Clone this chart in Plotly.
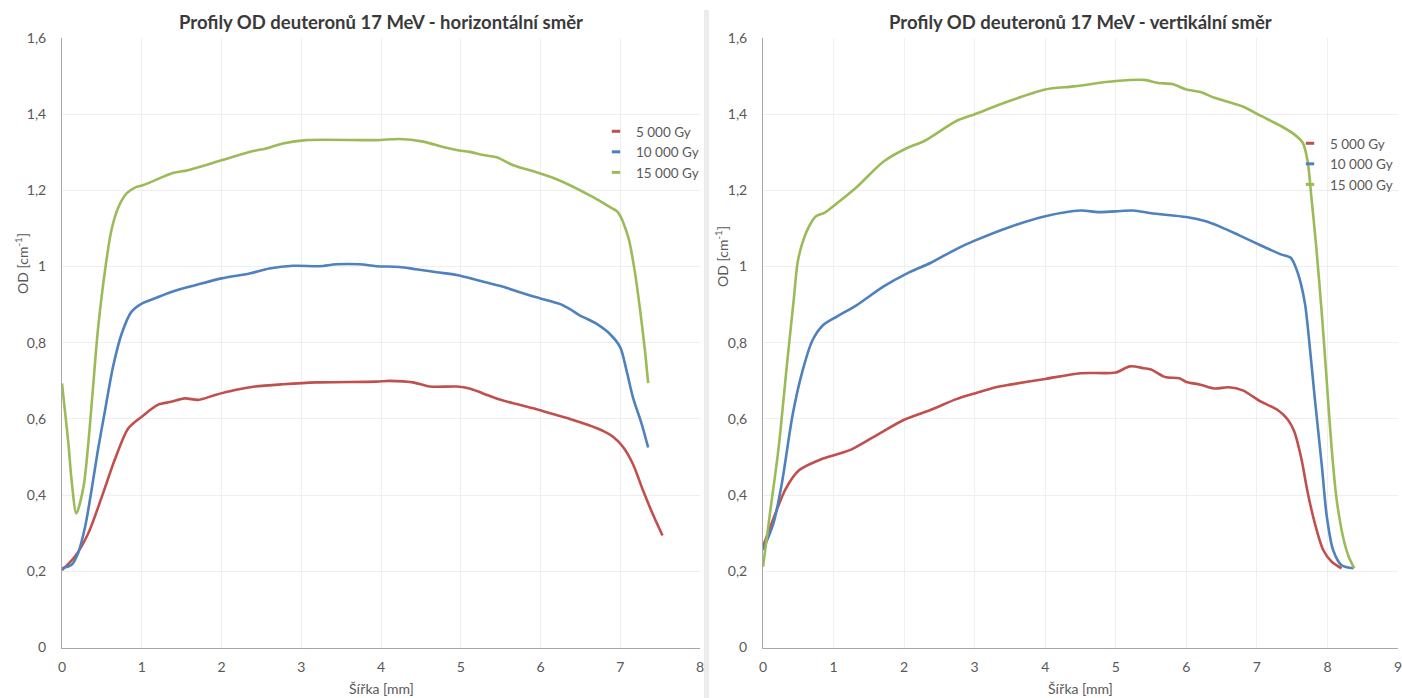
import plotly.graph_objects as go

W, H = 1402, 698

# ---------------- data ----------------
series_names = ["5 000 Gy", "10 000 Gy", "15 000 Gy"]
colors = ["#C0504D", "#4F81BD", "#9BBB59"]

# horizontal direction
h_red_x = [0, 0.16, 0.33, 0.5, 0.66, 0.83, 1.0, 1.2, 1.37, 1.54, 1.71, 1.92, 2.17, 2.42, 2.77, 3.19,
           3.94, 4.11, 4.4, 4.61, 4.95, 5.11, 5.28, 5.49, 5.7, 5.91, 6.12, 6.37, 6.6, 6.79, 6.91,
           7.04, 7.16, 7.29, 7.41, 7.53]
h_red_y = [0.203, 0.238, 0.30, 0.396, 0.492, 0.575, 0.606, 0.637, 0.645, 0.654, 0.650, 0.663, 0.676,
           0.685, 0.691, 0.696, 0.698, 0.700, 0.696, 0.685, 0.685, 0.680, 0.667, 0.651, 0.639, 0.628,
           0.615, 0.600, 0.584, 0.568, 0.553, 0.525, 0.481, 0.41, 0.349, 0.294]

h_blue_x = [0, 0.12, 0.2, 0.29, 0.37, 0.45, 0.54, 0.64, 0.75, 0.87, 1.0, 1.17, 1.38, 1.67, 2.0, 2.35,
            2.6, 2.9, 3.23, 3.44, 3.73, 3.94, 4.23, 4.44, 4.7, 4.95, 5.2, 5.36, 5.53, 5.78, 5.99,
            6.24, 6.37, 6.49, 6.6, 6.70, 6.87, 7.0, 7.08, 7.16, 7.27, 7.35]
h_blue_y = [0.208, 0.217, 0.247, 0.317, 0.413, 0.518, 0.623, 0.737, 0.825, 0.881, 0.903, 0.917, 0.934,
            0.951, 0.969, 0.982, 0.995, 1.002, 1.001, 1.006, 1.006, 1.001, 0.999, 0.993, 0.985, 0.978,
            0.965, 0.956, 0.947, 0.930, 0.917, 0.902, 0.888, 0.872, 0.861, 0.850, 0.823, 0.788,
            0.726, 0.656, 0.586, 0.525]

h_green_x = [0, 0.04, 0.08, 0.12, 0.18, 0.27, 0.33, 0.39, 0.45, 0.54, 0.62, 0.71, 0.81, 0.92, 1.02,
             1.17, 1.38, 1.58, 2.0, 2.35, 2.56, 2.77, 3.06, 3.94, 4.23, 4.53, 4.78, 4.95, 5.11, 5.28,
             5.45, 5.66, 5.99, 6.24, 6.66, 6.87, 6.97, 7.10, 7.18, 7.25, 7.31, 7.35]
h_green_y = [0.693, 0.615, 0.536, 0.44, 0.352, 0.422, 0.536, 0.685, 0.833, 0.991, 1.096, 1.157, 1.192,
             1.208, 1.214, 1.227, 1.245, 1.253, 1.279, 1.301, 1.31, 1.323, 1.332, 1.332, 1.335, 1.328,
             1.314, 1.306, 1.301, 1.293, 1.287, 1.266, 1.245, 1.226, 1.182, 1.156, 1.143, 1.077,
             0.99, 0.884, 0.779, 0.694]

# vertical direction
v_red_x = [0, 0.18, 0.32, 0.51, 0.85, 1.23, 1.57, 2.0, 2.38, 2.74, 3.0, 3.3, 3.5, 4.0, 4.5, 5.0, 5.2,
           5.4, 5.5, 5.7, 5.9, 6.0, 6.2, 6.4, 6.6, 6.8, 7.05, 7.29, 7.44, 7.53, 7.63, 7.72, 7.82,
           7.94, 8.06, 8.20]
v_red_y = [0.265, 0.354, 0.416, 0.465, 0.496, 0.518, 0.553, 0.598, 0.624, 0.652, 0.667, 0.683, 0.69,
           0.705, 0.72, 0.722, 0.738, 0.733, 0.73, 0.71, 0.707, 0.697, 0.69, 0.68, 0.683, 0.675,
           0.646, 0.624, 0.598, 0.567, 0.496, 0.407, 0.327, 0.256, 0.225, 0.208]

v_blue_x = [0, 0.15, 0.27, 0.42, 0.56, 0.70, 0.85, 1.04, 1.33, 1.71, 2.05, 2.38, 2.74, 3.0, 3.5, 4.0,
            4.5, 4.75, 5.0, 5.25, 5.5, 6.0, 6.25, 6.5, 6.75, 7.05, 7.34, 7.48, 7.58, 7.68, 7.75,
            7.82, 7.92, 7.99, 8.08, 8.20, 8.37]
v_blue_y = [0.256, 0.327, 0.434, 0.611, 0.726, 0.806, 0.846, 0.868, 0.899, 0.948, 0.983, 1.01, 1.046,
            1.068, 1.104, 1.132, 1.147, 1.143, 1.145, 1.147, 1.14, 1.13, 1.12, 1.103, 1.082, 1.056,
            1.032, 1.023, 0.983, 0.904, 0.788, 0.655, 0.478, 0.345, 0.256, 0.216, 0.208]

v_green_x = [0, 0.10, 0.22, 0.34, 0.44, 0.49, 0.56, 0.66, 0.75, 0.87, 1.04, 1.33, 1.71, 2.05, 2.28,
             2.74, 3.0, 3.5, 4.0, 4.4, 5.0, 5.4, 5.6, 5.8, 6.0, 6.2, 6.4, 6.8, 7.05, 7.34, 7.53,
             7.65, 7.72, 7.77, 7.84, 7.92, 7.99, 8.06, 8.13, 8.23, 8.30, 8.38]
v_green_y = [0.212, 0.354, 0.522, 0.744, 0.921, 1.01, 1.063, 1.108, 1.132, 1.141, 1.165, 1.209, 1.276,
             1.312, 1.329, 1.382, 1.40, 1.435, 1.465, 1.473, 1.487, 1.49, 1.482, 1.479, 1.465, 1.458,
             1.443, 1.42, 1.396, 1.369, 1.347, 1.325, 1.276, 1.187, 1.054, 0.877, 0.699, 0.522,
             0.389, 0.283, 0.239, 0.208]

title_left = "Profily OD deuteronů 17 MeV - horizontální směr"
title_right = "Profily OD deuteronů 17 MeV - vertikální směr"
x_title = "Šířka [mm]"
y_title = "OD [cm<sup>-1</sup>]"

# ---------------- figure ----------------
FONT = "Lato, 'Open Sans', sans-serif"
TICK_COLOR = "#595959"

def px_x(p):
    return p / W

def px_y(p):
    return (H - p) / H

fig = go.Figure()

left_sets = [(h_red_x, h_red_y), (h_blue_x, h_blue_y), (h_green_x, h_green_y)]
right_sets = [(v_red_x, v_red_y), (v_blue_x, v_blue_y), (v_green_x, v_green_y)]

for (xs, ys), c, n in zip(left_sets, colors, series_names):
    fig.add_trace(go.Scatter(x=xs, y=ys, mode="lines", name=n, showlegend=False,
                             line=dict(color=c, width=2.6, shape="spline", smoothing=0.8),
                             xaxis="x", yaxis="y"))
for (xs, ys), c, n in zip(right_sets, colors, series_names):
    fig.add_trace(go.Scatter(x=xs, y=ys, mode="lines", name=n, showlegend=False,
                             line=dict(color=c, width=2.6, shape="spline", smoothing=0.8),
                             xaxis="x2", yaxis="y2"))

# legend entries (short dash symbols, Excel style)
for lg, ax in (("legend", ("x", "y")), ("legend2", ("x2", "y2"))):
    for c, n in zip(colors, series_names):
        fig.add_trace(go.Scatter(x=[None], y=[None], mode="markers", name=n, legend=lg,
                                 marker=dict(symbol="line-ew", size=6, color=c,
                                             line=dict(color=c, width=3)),
                                 xaxis=ax[0], yaxis=ax[1]))

ydom = [px_y(647.5), px_y(38)]
common_x = dict(showgrid=True, gridcolor="#efefef", gridwidth=1, zeroline=False,
                showline=True, linecolor="#a6a6a6", linewidth=1, ticks="",
                tickfont=dict(size=14, color=TICK_COLOR, family=FONT),
                dtick=1, tick0=0, ticklabelstandoff=7, ticklabeloverflow="allow")
common_y = dict(showgrid=True, gridcolor="#efefef", gridwidth=1, zeroline=False,
                showline=True, linecolor="#a6a6a6", linewidth=1, ticks="",
                tickfont=dict(size=14, color=TICK_COLOR, family=FONT),
                range=[0, 1.6], dtick=0.2, tick0=0, ticklabelstandoff=12,
                ticklabeloverflow="allow")

fig.update_layout(
    width=W, height=H,
    margin=dict(l=0, r=0, t=0, b=0, autoexpand=False),
    paper_bgcolor="white", plot_bgcolor="white",
    separators=", ",
    font=dict(family=FONT, color=TICK_COLOR),
    xaxis=dict(domain=[px_x(62), px_x(700)], range=[0, 8], anchor="y", **common_x),
    yaxis=dict(domain=ydom, anchor="x", **common_y),
    xaxis2=dict(domain=[px_x(763), px_x(1398)], range=[0, 9], anchor="y2", **common_x),
    yaxis2=dict(domain=ydom, anchor="x2", **common_y),
    legend=dict(x=px_x(596), y=px_y(116), xanchor="left", yanchor="top",
                font=dict(size=13.5, color=TICK_COLOR, family=FONT),
                bgcolor="rgba(0,0,0,0)", itemwidth=30, tracegroupgap=0),
    legend2=dict(x=px_x(1290), y=px_y(128), xanchor="left", yanchor="top",
                 font=dict(size=13.5, color=TICK_COLOR, family=FONT),
                 bgcolor="rgba(0,0,0,0)", itemwidth=30, tracegroupgap=0),
    shapes=[dict(type="rect", xref="paper", yref="paper",
                 x0=px_x(704), x1=px_x(709), y0=0, y1=px_y(10),
                 fillcolor="#ebebeb", line=dict(width=0), layer="below")],
    annotations=[
        dict(text="<b>" + title_left + "</b>", x=px_x(381), y=px_y(22), xref="paper", yref="paper",
             showarrow=False, xanchor="center", yanchor="middle",
             font=dict(size=18.5, color="#3a3a3a", family=FONT)),
        dict(text="<b>" + title_right + "</b>", x=px_x(1080.5), y=px_y(22), xref="paper", yref="paper",
             showarrow=False, xanchor="center", yanchor="middle",
             font=dict(size=18.5, color="#3a3a3a", family=FONT)),
        dict(text=x_title, x=px_x(381), y=px_y(688), xref="paper", yref="paper",
             showarrow=False, xanchor="center", yanchor="middle",
             font=dict(size=14, color=TICK_COLOR, family=FONT)),
        dict(text=x_title, x=px_x(1080.5), y=px_y(688), xref="paper", yref="paper",
             showarrow=False, xanchor="center", yanchor="middle",
             font=dict(size=14, color=TICK_COLOR, family=FONT)),
        dict(text=y_title, x=px_x(21), y=px_y(264), xref="paper", yref="paper", textangle=-90,
             showarrow=False, xanchor="center", yanchor="middle",
             font=dict(size=14, color=TICK_COLOR, family=FONT)),
        dict(text=y_title, x=px_x(721), y=px_y(256), xref="paper", yref="paper", textangle=-90,
             showarrow=False, xanchor="center", yanchor="middle",
             font=dict(size=14, color=TICK_COLOR, family=FONT)),
    ],
)

fig.write_html("out.html")
